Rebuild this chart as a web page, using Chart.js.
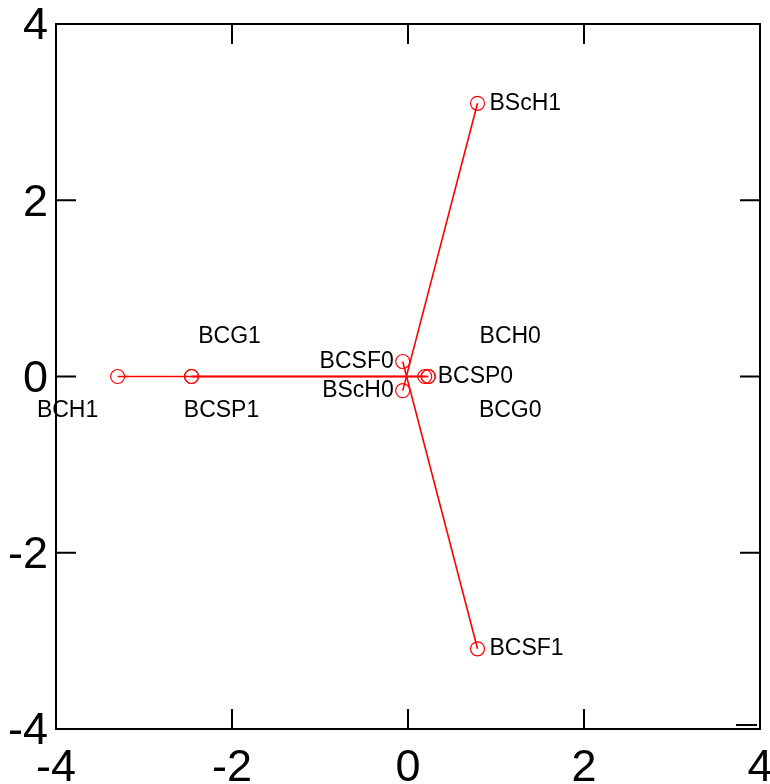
<!DOCTYPE html>
<html>
<head>
<meta charset="utf-8">
<script src="https://cdn.jsdelivr.net/npm/chart.js@4.4.1/dist/chart.umd.min.js"></script>
<style>
  html, body { margin: 0; padding: 0; background: #fff; }
  #wrap { width: 770px; height: 784px; }
</style>
</head>
<body>
<div id="wrap"><canvas id="mca"></canvas></div>
<script>
// category coordinates on the two dimensions
const categories = ['BCH0', 'BCH1', 'BCG0', 'BCG1', 'BCSP0', 'BCSP1', 'BCSF0', 'BCSF1', 'BScH0', 'BScH1'];
const dim1 = [0.23, -3.30, 0.23, -2.46, 0.19, -2.46, -0.06, 0.79, -0.06, 0.79];
const dim2 = [0.00, 0.00, 0.00, 0.00, 0.00, 0.00, 0.17, -3.09, -0.16, 3.10];

// categories of the same variable are joined by a segment
const variables = ['BCH', 'BCG', 'BCSP', 'BCSF', 'BScH'];

const tickValues = [-4, -2, 0, 2, 4];

const red = '#ff0000';

// where each name sits relative to its marker (pixels)
const labelPlace = {
    BCH0:  { dx: 82, dy: -40, align: 'center' },
    BCH1:  { dx: -50, dy: 34, align: 'center' },
    BCG0:  { dx: 82, dy: 34, align: 'center' },
    BCG1:  { dx: 38, dy: -40, align: 'center' },
    BCSP0: { dx: 13, dy: 0, align: 'left' },
    BCSP1: { dx: 30, dy: 34, align: 'center' },
    BCSF0: { dx: -9, dy: 0, align: 'right' },
    BCSF1: { dx: 12, dy: 0, align: 'left' },
    BScH0: { dx: -9, dy: 0, align: 'right' },
    BScH1: { dx: 12, dy: 0, align: 'left' }
};

const points = categories.map((c, i) => ({ x: dim1[i], y: dim2[i], name: c }));

const segments = variables.map(v => {
    const members = points.filter(p => p.name.slice(0, -1) === v);
    return {
        type: 'scatter',
        data: members.map(p => ({ x: p.x, y: p.y })),
        showLine: true,
        borderColor: red,
        borderWidth: 1.6,
        pointRadius: 0,
        clip: false
    };
});

// names next to the markers
const labelPlugin = {
    id: 'pointNames',
    afterDatasetsDraw(chart) {
        const ctx = chart.ctx;
        const xs = chart.scales.x, ys = chart.scales.y;
        ctx.save();
        ctx.font = '23px "Liberation Sans", Arial, sans-serif';
        ctx.fillStyle = '#000';
        ctx.textBaseline = 'middle';
        points.forEach(p => {
            const pl = labelPlace[p.name];
            ctx.textAlign = pl.align;
            ctx.fillText(p.name, xs.getPixelForValue(p.x) + pl.dx, ys.getPixelForValue(p.y) + pl.dy);
        });
        ctx.restore();
    }
};

// box round the plot with inward ticks on all four sides
const framePlugin = {
    id: 'frame',
    afterDraw(chart) {
        const ctx = chart.ctx;
        const a = chart.chartArea;
        const xs = chart.scales.x, ys = chart.scales.y;
        const len = 20;
        ctx.save();
        ctx.strokeStyle = '#000';
        ctx.lineWidth = 2;
        ctx.strokeRect(a.left, a.top, a.right - a.left, a.bottom - a.top);
        ctx.beginPath();
        tickValues.forEach(v => {
            const px = xs.getPixelForValue(v);
            ctx.moveTo(px, a.bottom); ctx.lineTo(px, a.bottom - len);
            ctx.moveTo(px, a.top); ctx.lineTo(px, a.top + len);
            const py = ys.getPixelForValue(v);
            ctx.moveTo(a.left, py); ctx.lineTo(a.left + len, py);
            ctx.moveTo(a.right, py); ctx.lineTo(a.right - len, py);
        });
        // short stray tick near the lower right corner
        const pyLow = ys.getPixelForValue(-4) - 4;
        ctx.moveTo(a.right - 3, pyLow); ctx.lineTo(a.right - 24, pyLow);
        ctx.stroke();
        ctx.restore();
    }
};

const tickFont = { family: '"Liberation Sans", Arial, sans-serif', size: 45 };

// fixed axis sizes, no extra room for overhanging labels
function fixBox(scale, prop, size) {
    scale[prop] = size;
    scale.paddingLeft = scale.paddingRight = scale.paddingTop = scale.paddingBottom = 0;
}

new Chart(document.getElementById('mca'), {
    type: 'scatter',
    data: {
        datasets: [{
            data: points,
            showLine: false,
            pointStyle: 'circle',
            pointRadius: 7,
            pointBorderWidth: 1.2,
            pointBorderColor: red,
            pointBackgroundColor: 'rgba(0,0,0,0)',
            clip: false
        }].concat(segments)
    },
    options: {
        responsive: true,
        maintainAspectRatio: false,
        animation: false,
        layout: { padding: { top: 24, right: 10, left: 0, bottom: 0 } },
        plugins: {
            legend: { display: false },
            tooltip: { enabled: false }
        },
        scales: {
            x: {
                type: 'linear',
                min: -4, max: 4,
                grid: { display: false, drawTicks: false },
                border: { display: false },
                ticks: {
                    stepSize: 2, color: '#000', font: tickFont, padding: 13,
                    maxRotation: 0,
                    callback: v => v
                },
                afterFit(scale) { fixBox(scale, 'height', 55); }
            },
            y: {
                type: 'linear',
                min: -4, max: 4,
                grid: { display: false, drawTicks: false },
                border: { display: false },
                ticks: {
                    stepSize: 2, color: '#000', font: tickFont, padding: 8,
                    labelOffset: 3,
                    callback: v => v
                },
                afterFit(scale) { fixBox(scale, 'width', 56); }
            }
        }
    },
    plugins: [labelPlugin, framePlugin]
});
</script>
</body>
</html>
